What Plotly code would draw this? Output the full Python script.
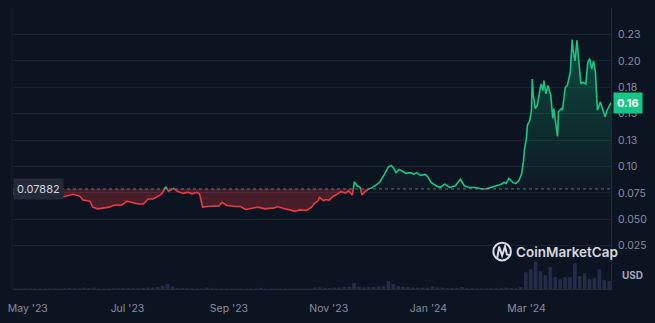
import pandas as pd
import plotly.graph_objects as go

# ---------------- data ----------------
start_date = "2023-04-22"
base_price = 0.07882

day_offset = [
    0, 7.1, 16.1, 25.0, 30.9, 33.9, 36.9, 41.0, 42.8, 47.0,
    48.8, 51.7, 54.7, 58.9, 61.8, 66.6, 69.6, 72.5, 76.7, 79.7,
    82.6, 85.6, 88.6, 90.4, 92.2, 93.3, 95.1, 98.1, 100.5, 104.0,
    107.0, 109.4, 112.4, 114.1, 115.9, 118.9, 121.9, 126.0, 127.8, 130.8,
    136.1, 139.1, 142.1, 145.7, 149.8, 154.0, 159.9, 161.7, 165.9, 169.4,
    172.4, 175.4, 179.5, 182.5, 184.3, 186.7, 187.3, 189.7, 191.4, 193.2,
    195.6, 197.4, 200.4, 203.3, 205.1, 207.5, 208.7, 210.5, 212.2, 213.4,
    215.2, 217.0, 219.4, 221.2, 224.1, 227.1, 229.5, 231.3, 232.5, 234.2,
    236.0, 237.8, 240.2, 243.2, 245.0, 246.7, 249.1, 252.1, 253.9, 255.6,
    258.6, 261.0, 264.0, 266.9, 270.5, 273.5, 275.9, 278.8, 282.4, 285.4,
    288.3, 292.5, 295.5, 298.5, 300.2, 301.4, 303.2, 305.6, 307.4, 309.2,
    310.9, 312.1, 312.7, 313.9, 314.5, 315.7, 316.9, 317.5, 318.1, 319.3,
    320.5, 321.6, 322.8, 324.0, 324.6, 325.8, 327.0, 328.8, 330.0, 330.6,
    331.7, 332.9, 333.5, 335.3, 335.9, 337.7, 338.9, 340.7, 341.9, 342.4,
    343.6, 344.8, 346.0, 347.2, 348.4, 350.2, 351.4, 352.6, 353.8, 354.9,
    356.1, 357.3, 359.1, 360.2, 362.0, 363.2, 365.0, 365.6,
]

price = [
    0.0746, 0.0737, 0.0746, 0.0734, 0.0715, 0.0728, 0.0737, 0.0718, 0.0684, 0.0672,
    0.0616, 0.0600, 0.0606, 0.0616, 0.0634, 0.0637, 0.0672, 0.0662, 0.0646, 0.0646,
    0.0693, 0.0693, 0.0715, 0.0734, 0.0771, 0.0809, 0.0765, 0.0793, 0.0765, 0.0746,
    0.0756, 0.0742, 0.0756, 0.0740, 0.0616, 0.0622, 0.0622, 0.0628, 0.0662, 0.0632,
    0.0622, 0.0622, 0.0594, 0.0606, 0.0616, 0.0600, 0.0609, 0.0622, 0.0600, 0.0590,
    0.0576, 0.0590, 0.0585, 0.0616, 0.0653, 0.0678, 0.0709, 0.0678, 0.0688, 0.0681,
    0.0718, 0.0730, 0.0762, 0.0749, 0.0771, 0.0730, 0.0855, 0.0818, 0.0802, 0.0730,
    0.0762, 0.0786, 0.0798, 0.0818, 0.0849, 0.0926, 0.0998, 0.1010, 0.0989, 0.0942,
    0.0973, 0.0958, 0.0936, 0.0942, 0.0926, 0.0942, 0.0917, 0.0926, 0.0896, 0.0849,
    0.0818, 0.0802, 0.0833, 0.0802, 0.0818, 0.0880, 0.0818, 0.0802, 0.0802, 0.0793,
    0.0786, 0.0802, 0.0818, 0.0833, 0.0849, 0.0840, 0.0889, 0.0849, 0.0840, 0.0865,
    0.0926, 0.1051, 0.1160, 0.1269, 0.1393, 0.1424, 0.1518, 0.1828, 0.1673, 0.1549,
    0.1579, 0.1673, 0.1782, 0.1719, 0.1813, 0.1688, 0.1766, 0.1673, 0.1455, 0.1549,
    0.1393, 0.1285, 0.1518, 0.1549, 0.1533, 0.1751, 0.1766, 0.1891, 0.2201, 0.2108,
    0.1999, 0.2195, 0.1984, 0.1782, 0.1798, 0.1782, 0.1984, 0.2021, 0.1922, 0.1999,
    0.1891, 0.1533, 0.1611, 0.1564, 0.1471, 0.1533, 0.1595, 0.1604,
]

# volume every 3 days (millions USD, estimated)
volume = [
    0.5, 0.5, 0.6, 0.5, 0.5, 0.6, 0.5, 0.5, 0.6, 0.5,
    0.6, 0.8, 0.7, 0.6, 1.5, 0.8, 1.5, 0.6, 0.5, 0.6,
    0.6, 0.7, 0.8, 0.8, 0.7, 0.8, 1.0, 1.5, 1.5, 2.0,
    3.0, 5.0, 2.5, 1.0, 0.8, 0.7, 0.7, 0.6, 0.6, 1.5,
    0.7, 0.6, 0.5, 0.5, 0.5, 0.5, 0.5, 0.5, 0.5, 0.5,
    1.2, 0.5, 0.5, 0.5, 0.5, 0.5, 0.5, 0.5, 0.5, 0.5,
    0.6, 1.5, 1.8, 1.0, 1.0, 1.5, 1.5, 2.0, 2.5, 6.0,
    2.5, 1.5, 2.0, 2.0, 2.5, 3.0, 8.0, 5.0, 3.0, 2.5,
    2.0, 1.5, 1.5, 1.5, 1.2, 2.5, 1.5, 1.5, 1.0, 1.0,
    1.0, 2.0, 1.0, 0.8, 0.6, 0.6, 0.6, 0.7, 0.8, 1.2,
    1.5, 1.0, 0.8, 2.0, 17, 20, 28, 18, 14, 22,
    12, 10, 12, 12, 26, 13, 16, 10, 11, 20,
    9, 8, 7,
]

y_tickvals = [0.025, 0.05, 0.075, 0.1, 0.125, 0.15, 0.175, 0.2, 0.225]
y_ticktext = ["0.025", "0.050", "0.075", "0.10", "0.13", "0.15", "0.18", "0.20", "0.23"]

assert len(day_offset) == len(price)

# ---------------- processing ----------------
t0 = pd.Timestamp(start_date)

# insert crossing points at the base price
seg_t, seg_v = [], []
for i in range(len(day_offset)):
    if i > 0:
        a, b = price[i - 1], price[i]
        if (a - base_price) * (b - base_price) < 0:
            ta, tb = day_offset[i - 1], day_offset[i]
            tc = ta + (base_price - a) / (b - a) * (tb - ta)
            seg_t.append(tc)
            seg_v.append(base_price)
    seg_t.append(day_offset[i])
    seg_v.append(price[i])

xs = [t0 + pd.Timedelta(days=d) for d in seg_t]
green_line = [v if v >= base_price else None for v in seg_v]
red_line = [v if v <= base_price else None for v in seg_v]
green_fill = [max(v, base_price) for v in seg_v]
red_fill = [min(v, base_price) for v in seg_v]
base_arr = [base_price] * len(seg_v)

vol_dates = [t0 + pd.Timedelta(days=3 * i + 1.5) for i in range(len(volume))]

GREEN = "#16c784"
RED = "#ea3943"
BG = "#0d1421"
GRID = "#1b2331"
TICK = "#858ca2"

fig = go.Figure()

fig.add_trace(go.Bar(
    x=vol_dates, y=volume, yaxis="y2",
    marker=dict(color="rgba(92,102,170,0.30)", line=dict(width=0)),
    width=2.2 * 86400000, hoverinfo="skip", showlegend=False,
))

fig.add_trace(go.Scatter(x=xs, y=base_arr, mode="lines", line=dict(width=0),
                         hoverinfo="skip", showlegend=False))
fig.add_trace(go.Scatter(
    x=xs, y=green_fill, mode="lines", line=dict(width=0), fill="tonexty",
    fillgradient=dict(type="vertical", start=base_price, stop=0.225,
                      colorscale=[[0, "rgba(22,199,132,0.02)"], [1, "rgba(22,199,132,0.32)"]]),
    hoverinfo="skip", showlegend=False,
))
fig.add_trace(go.Scatter(x=xs, y=base_arr, mode="lines", line=dict(width=0),
                         hoverinfo="skip", showlegend=False))
fig.add_trace(go.Scatter(
    x=xs, y=red_fill, mode="lines", line=dict(width=0), fill="tonexty",
    fillcolor="rgba(234,57,67,0.27)", hoverinfo="skip", showlegend=False,
))

fig.add_trace(go.Scatter(x=xs, y=red_line, mode="lines", line=dict(color=RED, width=1.6),
                         connectgaps=False, showlegend=False))
fig.add_trace(go.Scatter(x=xs, y=green_line, mode="lines", line=dict(color=GREEN, width=1.6),
                         connectgaps=False, showlegend=False))

x_end = t0 + pd.Timedelta(days=day_offset[-1])

fig.update_layout(
    width=655, height=323,
    margin=dict(l=8, r=32, t=8, b=30),
    paper_bgcolor=BG, plot_bgcolor=BG,
    font=dict(family="Inter, Roboto, sans-serif", color=TICK, size=11),
    xaxis=dict(
        type="date", range=[t0, x_end],
        tick0="2023-05-01", dtick="M2", tickformat="%b '%y",
        showgrid=False, zeroline=False, showline=True, linecolor="#222b39", linewidth=1,
        ticks="", tickfont=dict(size=10.5, color=TICK), ticklabelstandoff=9,
    ),
    yaxis=dict(
        side="right", range=[-0.01586, 0.25],
        tickvals=y_tickvals, ticktext=y_ticktext,
        showgrid=True, gridcolor=GRID, gridwidth=1, zeroline=False,
        showline=True, linecolor="#222b39", linewidth=1,
        ticks="", tickfont=dict(size=10.5, color=TICK), ticklabelstandoff=4,
    ),
    yaxis2=dict(overlaying="y", range=[0, 285], visible=False),
    showlegend=False,
)

# dotted base line
fig.add_shape(type="line", xref="paper", yref="y", x0=0, x1=1, y0=base_price, y1=base_price,
              line=dict(color="rgba(150,156,172,0.65)", width=1, dash="dot"))
# faint left border
fig.add_shape(type="line", xref="paper", yref="paper", x0=-0.002, x1=-0.002, y0=0, y1=1,
              line=dict(color="#19202c", width=1))

# base price label
fig.add_annotation(xref="paper", yref="y", x=0, y=base_price, xanchor="left", yanchor="middle",
                   text="0.07882", showarrow=False, bgcolor="#232936", borderpad=3,
                   font=dict(size=11, color="#cfd5e2"))
# last price label
fig.add_annotation(xref="paper", yref="y", x=1, y=price[-1], xanchor="left", yanchor="middle",
                   xshift=2, text="<b>0.16</b>", showarrow=False, bgcolor=GREEN, borderpad=3,
                   font=dict(size=11, color="#ffffff"))
# USD
fig.add_annotation(xref="paper", yref="paper", x=1, y=0.049, xanchor="left", yanchor="middle",
                   xshift=9, text="<b>USD</b>", showarrow=False,
                   font=dict(size=10, color="#a1a7bb"))

# CoinMarketCap watermark
fig.add_shape(type="circle", xref="paper", yref="paper",
              x0=0.8033, x1=0.8325, y0=0.1018, y1=0.1649,
              line=dict(color="rgba(235,238,245,0.92)", width=2))
fig.add_shape(type="path", xref="paper", yref="paper",
              path="M 0.8098,0.1105 L 0.8130,0.1509 L 0.8179,0.1193 L 0.8228,0.1509 L 0.8260,0.1228 L 0.8325,0.1193",
              line=dict(color="rgba(235,238,245,0.92)", width=2))
fig.add_annotation(xref="paper", yref="paper", x=0.837, y=0.1333, xanchor="left", yanchor="middle",
                   text="CoinMarketCap", showarrow=False,
                   font=dict(size=13.5, color="rgba(235,238,245,0.92)", family="Inter", weight=600))

fig.write_html("out.html")
